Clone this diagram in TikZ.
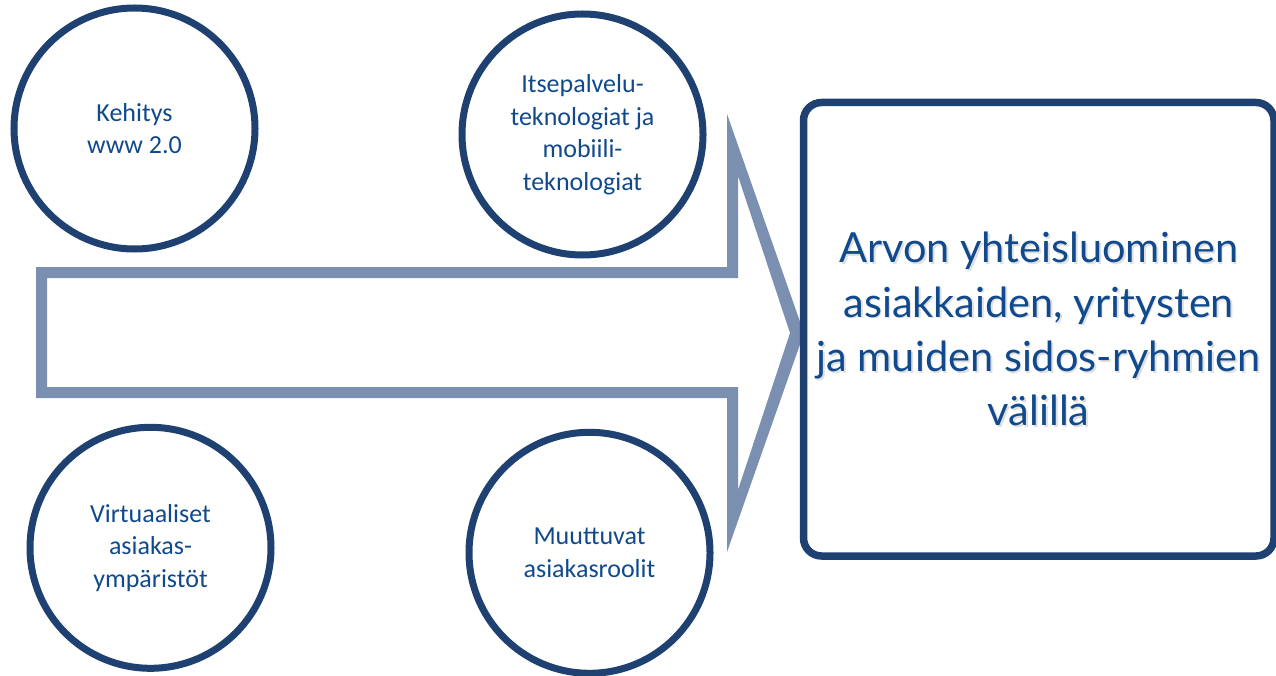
\documentclass[tikz,border=0pt]{standalone}
\usepackage{fontspec}
\newfontfamily\circfont{Carlito}
\newfontfamily\boxfont{Lato}
\definecolor{navy}{HTML}{1F4172}
\definecolor{arrowblue}{HTML}{7B8FB0}
\definecolor{textblue}{HTML}{104A8C}
\begin{document}
\begin{tikzpicture}[x=1pt,y=-1pt,
  topic/.style={circle, draw=navy, line width=7pt, fill=white,
    minimum size=241pt, inner sep=0pt, align=center, text=textblue,
    font=\circfont\fontsize{26}{32.5}\selectfont},
  topicshadow/.style={circle, minimum size=241pt, inner sep=0pt, align=center,
    text=black, text opacity=0.16, font=\circfont\fontsize{26}{32.5}\selectfont},
  goal/.style={rectangle, rounded corners=18pt, draw=navy, line width=7.5pt,
    fill=white, minimum width=470.5pt, minimum height=453.5pt, inner sep=0pt,
    align=center, text=textblue, font=\boxfont\fontsize{41.5}{54.3}\selectfont},
  goalshadow/.style={rectangle, minimum width=470.5pt, minimum height=453.5pt,
    inner sep=0pt, align=center, text=black, text opacity=0.12,
    font=\boxfont\fontsize{41.5}{54.3}\selectfont}]
\useasboundingbox (0,0) rectangle (1276,676);

% hollow block arrow pointing right
\fill[arrowblue, even odd rule]
  (36,267) -- (727,267) -- (727,114) -- (804,333) -- (727,552) -- (727,398) -- (36,398) -- cycle
  (47,278) -- (738,278) -- (738,176) -- (790,333) -- (738,490) -- (738,387) -- (47,387) -- cycle;

% soft text shadows
\node[topicshadow] (s1) at (135.8,129.8) {Kehitys\\www 2.0};
\node[topicshadow] (s2) at (583.8,134.3) {Itsepalvelu-\\teknologiat ja\\mobiili-\\teknologiat};
\node[topicshadow] (s3) at (151.8,549.1) {Virtuaaliset\\asiakas-\\ympäristöt};
\node[topicshadow] (s4) at (590.8,554.1) {Muuttuvat\\asiakasroolit};

% the four drivers
\node[topic] (c1) at (134.5,128.5) {Kehitys\\www 2.0};
\node[topic] (c2) at (582.5,134.5) {Itsepalvelu-\\teknologiat ja\\mobiili-\\teknologiat};
\node[topic] (c3) at (150.5,547.8) {Virtuaaliset\\asiakas-\\ympäristöt};
\node[topic] (c4) at (589.5,552.8) {Muuttuvat\\asiakasroolit};

% outcome box
\node[goal] (g) at (1038.75,329.25) {};
\node[goalshadow] (gs) at (1040.5,331) {Arvon yhteisluominen\\asiakkaiden, yritysten\\ja muiden sidos-ryhmien\\välillä};
\node[goal, draw=none, fill=none] (gt) at (1038.75,329.25) {Arvon yhteisluominen\\asiakkaiden, yritysten\\ja muiden sidos-ryhmien\\välillä};
\end{tikzpicture}
\end{document}
